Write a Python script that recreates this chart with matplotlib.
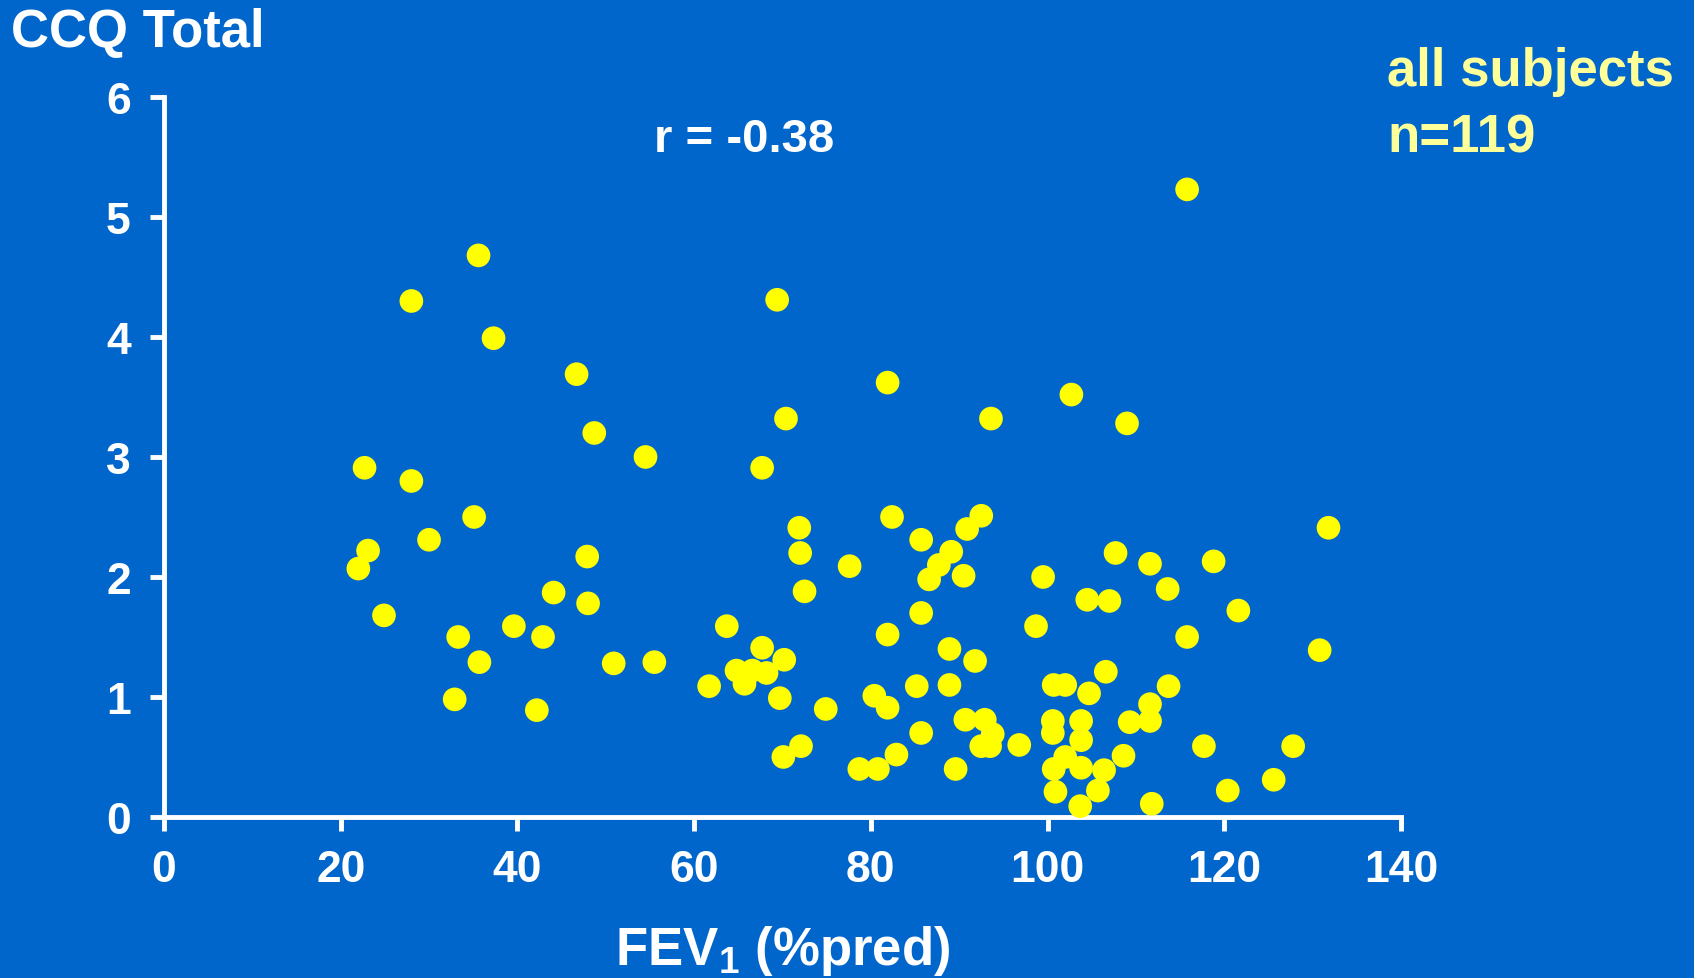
import matplotlib
matplotlib.use("Agg")
import matplotlib.pyplot as plt

plt.rcParams['font.family'] = ['Liberation Sans', 'DejaVu Sans']
plt.rcParams['font.weight'] = 'bold'
plt.rcParams['mathtext.fontset'] = 'custom'
plt.rcParams['mathtext.rm'] = 'Liberation Sans:bold'
plt.rcParams['mathtext.it'] = 'Liberation Sans:bold'
plt.rcParams['mathtext.bf'] = 'Liberation Sans:bold'

# FEV1 (%pred) vs CCQ total score
fev1 = [22.0, 22.7, 23.1, 24.9, 28.0, 28.0, 30.0, 32.9, 33.3, 35.1,
        35.6, 35.7, 37.3, 39.6, 42.2, 42.9, 44.1, 46.7, 47.9, 48.0,
        48.7, 50.9, 54.5, 55.5, 61.7, 63.7, 64.8, 65.7, 66.6, 67.7,
        67.7, 68.2, 69.4, 69.7, 70.2, 70.1, 70.4, 71.9, 72.0, 72.1,
        72.5, 74.9, 77.6, 78.7, 80.4, 80.8, 81.9, 81.9, 81.9, 82.4,
        82.9, 85.2, 85.7, 85.7, 85.7, 86.6, 87.7, 88.9, 88.9, 89.1,
        89.6, 90.5, 90.7, 90.9, 91.8, 92.5, 92.5, 92.9, 93.5, 93.6,
        93.8, 96.8, 98.7, 99.5, 100.6, 100.6, 100.7, 100.7, 100.9, 102.0,
        102.0, 102.7, 103.7, 103.8, 103.8, 103.8, 104.5, 104.7, 105.7, 106.4,
        106.6, 107.0, 107.7, 108.6, 109.0, 109.3, 111.6, 111.6, 111.6, 111.8,
        113.6, 113.7, 115.8, 115.8, 117.7, 118.8, 120.4, 121.6, 125.6, 127.8,
        130.8, 131.8]
ccq = [2.07, 2.91, 2.22, 1.68, 4.30, 2.80, 2.31, 0.98, 1.50, 2.50,
       4.68, 1.29, 3.99, 1.59, 0.89, 1.50, 1.87, 3.69, 2.17, 1.78,
       3.20, 1.28, 3.00, 1.29, 1.09, 1.59, 1.22, 1.11, 1.22, 1.41,
       2.91, 1.20, 4.31, 0.99, 1.31, 0.50, 3.32, 2.41, 2.20, 0.59,
       1.88, 0.90, 2.09, 0.40, 1.01, 0.40, 3.62, 1.52, 0.91, 2.50,
       0.52, 1.09, 2.31, 1.70, 0.70, 1.98, 2.10, 1.40, 1.10, 2.21,
       0.40, 2.01, 0.81, 2.40, 1.30, 2.51, 0.59, 0.81, 0.59, 3.32,
       0.69, 0.60, 1.59, 2.00, 0.80, 0.70, 1.10, 0.40, 0.21, 1.10,
       0.50, 3.52, 0.09, 0.80, 0.64, 0.41, 1.81, 1.03, 0.22, 0.39,
       1.21, 1.80, 2.20, 0.51, 3.28, 0.79, 2.11, 0.94, 0.80, 0.11,
       1.90, 1.09, 5.23, 1.50, 0.59, 2.13, 0.22, 1.72, 0.31, 0.59,
       1.39, 2.41]

x_ticks = [0, 20, 40, 60, 80, 100, 120, 140]
y_ticks = [0, 1, 2, 3, 4, 5, 6]

bg = '#0066CC'
fig = plt.figure(figsize=(16.94, 9.79), dpi=100, facecolor=bg)
ax = fig.add_axes([0.0968, 0.1645, 0.7302, 0.7354])
ax.set_facecolor(bg)

ax.scatter(fev1, ccq, s=290, color='#FFFF00', edgecolors='none', zorder=3, clip_on=False)

ax.set_xlim(0, 140)
ax.set_ylim(0, 6)
ax.set_xticks(x_ticks)
ax.set_yticks(y_ticks)
for side in ['top', 'right']:
    ax.spines[side].set_visible(False)
for side in ['left', 'bottom']:
    ax.spines[side].set_color('white')
    ax.spines[side].set_linewidth(3.5)
ax.tick_params(axis='both', colors='white', width=3.5, length=10, direction='out',
               labelsize=32)
ax.tick_params(axis='x', pad=13)
ax.tick_params(axis='y', pad=14)
for lab in ax.get_xticklabels() + ax.get_yticklabels():
    lab.set_fontweight('bold')

ax.set_xlabel('FEV$_{1}$ (%pred)', fontsize=38, fontweight='bold', color='white', labelpad=24)
fig.text(0.0065, 0.966, 'CCQ Total', fontsize=38, fontweight='bold', color='white',
         ha='left', va='center')
ax.text(0.469, 0.942, 'r = -0.38', transform=ax.transAxes, fontsize=34, fontweight='bold',
        color='white', ha='center', va='center')
fig.text(0.819, 0.926, 'all subjects', fontsize=38, fontweight='bold', color='#FFFF99',
         ha='left', va='center')
fig.text(0.819, 0.859, 'n=119', fontsize=38, fontweight='bold', color='#FFFF99',
         ha='left', va='center')

fig.savefig('out.png', dpi=100, facecolor=bg)
